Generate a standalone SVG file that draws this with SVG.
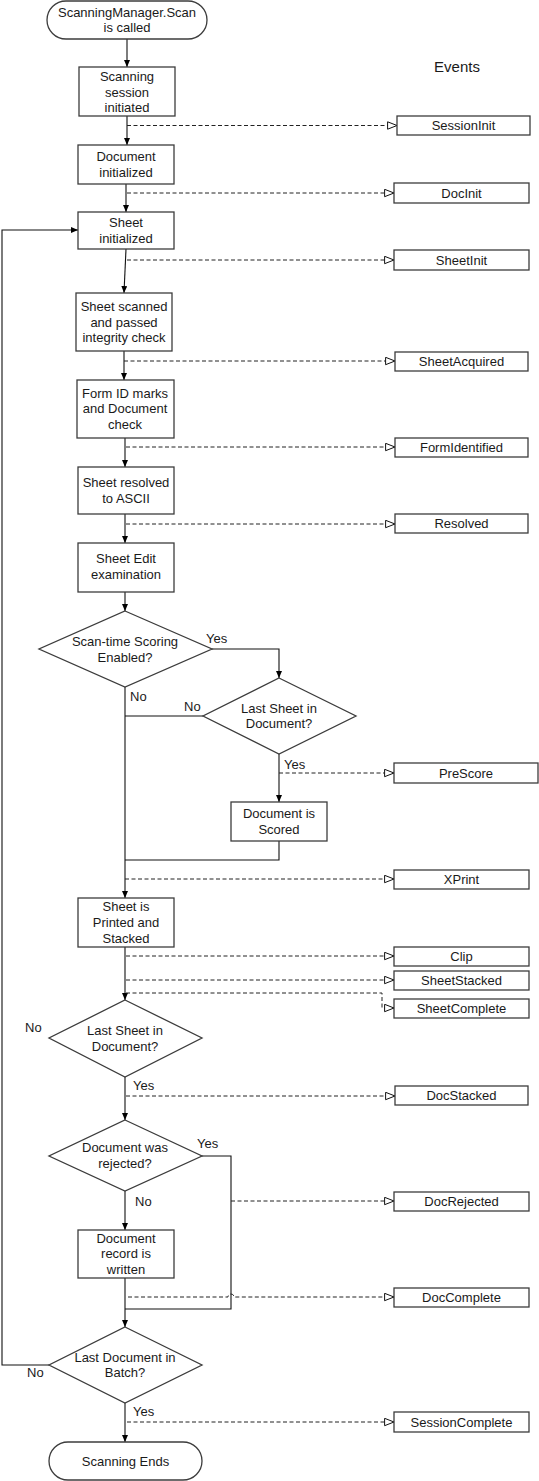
<svg xmlns="http://www.w3.org/2000/svg" width="539" height="1481" viewBox="0 0 539 1481">
<style>
.n{fill:#fff;stroke:#3c3c3c;stroke-width:1.3}
.t{font-family:"Liberation Sans",Arial,sans-serif;font-size:13px;fill:#1a1a1a;text-anchor:middle}
.l{font-family:"Liberation Sans",Arial,sans-serif;font-size:13px;fill:#1a1a1a}
.c{fill:none;stroke:#111;stroke-width:1.1}
.d{fill:none;stroke:#222;stroke-width:1;stroke-dasharray:4,2.5}
</style>
<defs>
<marker id="a" markerUnits="userSpaceOnUse" markerWidth="8" markerHeight="8" refX="7" refY="3" orient="auto"><path d="M0,0 L7,3 L0,6 z" fill="#000"/></marker>
<marker id="o" markerUnits="userSpaceOnUse" markerWidth="12" markerHeight="10" refX="10" refY="4.5" orient="auto"><path d="M0.6,0.8 L10,4.5 L0.6,8.2 z" fill="#fff" stroke="#111" stroke-width="1"/></marker>
</defs>
<rect width="539" height="1481" fill="#fff"/>
<text class="l" x="457" y="72" text-anchor="middle" style="font-size:15px">Events</text>
<g id="connectors">
<path class="c" d="M127,39 V67" marker-end="url(#a)"/>
<path class="c" d="M127,116 V145" marker-end="url(#a)"/>
<path class="c" d="M126,184 V212" marker-end="url(#a)"/>
<path class="c" d="M126,249 L124,293" marker-end="url(#a)"/>
<path class="c" d="M124,351 V380" marker-end="url(#a)"/>
<path class="c" d="M125,438 V467" marker-end="url(#a)"/>
<path class="c" d="M125,514 V543" marker-end="url(#a)"/>
<path class="c" d="M125,592 V611" marker-end="url(#a)"/>
<path class="c" d="M212,649 H279 V678" marker-end="url(#a)"/>
<path class="c" d="M125,687 V898" marker-end="url(#a)"/>
<path class="c" d="M203,716 H125"/>
<path class="c" d="M279,754 V802" marker-end="url(#a)"/>
<path class="c" d="M279,841 V860 H125"/>
<path class="c" d="M125,947 V1000" marker-end="url(#a)"/>
<path class="c" d="M125,1077 V1120" marker-end="url(#a)"/>
<path class="c" d="M125,1191 V1230" marker-end="url(#a)"/>
<path class="c" d="M202,1156 H231 V1309 H125"/>
<path class="c" d="M125,1278 V1327" marker-end="url(#a)"/>
<path class="c" d="M49,1365 H2 V230 H78" marker-end="url(#a)"/>
<path class="c" d="M125,1403 V1442" marker-end="url(#a)"/>
<path class="d" d="M127,125.5 H397" marker-end="url(#o)"/>
<path class="d" d="M127,193 H394" marker-end="url(#o)"/>
<path class="d" d="M127,260 H394" marker-end="url(#o)"/>
<path class="d" d="M124,361 H395" marker-end="url(#o)"/>
<path class="d" d="M126,447 H395" marker-end="url(#o)"/>
<path class="d" d="M126,524 H395" marker-end="url(#o)"/>
<path class="d" d="M279,773 H394" marker-end="url(#o)"/>
<path class="d" d="M125,879 H394" marker-end="url(#o)"/>
<path class="d" d="M126,956 H394" marker-end="url(#o)"/>
<path class="d" d="M126,980 H394" marker-end="url(#o)"/>
<path class="d" d="M126,993 H382 V1008 H394" marker-end="url(#o)"/>
<path class="d" d="M126,1096 H395" marker-end="url(#o)"/>
<path class="d" d="M231,1201 H394" marker-end="url(#o)"/>
<path class="d" d="M128,1297 H228 A3,3 0 0 1 234,1297 H394" marker-end="url(#o)"/>
<path class="d" d="M127,1422 H394" marker-end="url(#o)"/>
<text class="l" x="206" y="642.5">Yes</text>
<text class="l" x="130" y="701">No</text>
<text class="l" x="184" y="711">No</text>
<text class="l" x="284" y="769">Yes</text>
<text class="l" x="25" y="1032">No</text>
<text class="l" x="133" y="1090">Yes</text>
<text class="l" x="197" y="1148">Yes</text>
<text class="l" x="135" y="1206">No</text>
<text class="l" x="27" y="1377">No</text>
<text class="l" x="133" y="1416">Yes</text>
</g>
<g id="start"><rect class="n" x="47" y="1" width="160" height="38" rx="19"/><text class="t" x="127" y="16.5">ScanningManager.Scan</text><text class="t" x="127" y="31.5">is called</text></g>
<g id="session"><rect class="n" x="79" y="67" width="96" height="49"/><text class="t" x="127" y="81">Scanning</text><text class="t" x="127" y="97">session</text><text class="t" x="127" y="112">initiated</text></g>
<g id="docinit"><rect class="n" x="78" y="145" width="96" height="39"/><text class="t" x="126" y="160.5">Document</text><text class="t" x="126" y="176.5">initialized</text></g>
<g id="sheetinit"><rect class="n" x="78" y="212" width="96" height="37"/><text class="t" x="126" y="227">Sheet</text><text class="t" x="126" y="243">initialized</text></g>
<g id="scanned"><rect class="n" x="76" y="293" width="96" height="58"/><text class="t" x="124" y="311">Sheet scanned</text><text class="t" x="124" y="327">and passed</text><text class="t" x="124" y="342">integrity check</text></g>
<g id="formid"><rect class="n" x="77" y="380" width="97" height="58"/><text class="t" x="125" y="398">Form ID marks</text><text class="t" x="125" y="413">and Document</text><text class="t" x="125" y="429">check</text></g>
<g id="resolved"><rect class="n" x="78" y="467" width="96" height="47"/><text class="t" x="126" y="487">Sheet resolved</text><text class="t" x="126" y="503">to ASCII</text></g>
<g id="edit"><rect class="n" x="78" y="543" width="96" height="49"/><text class="t" x="126" y="563">Sheet Edit</text><text class="t" x="126" y="579">examination</text></g>
<g id="dec1"><polygon class="n" points="125,611 212,649 125,687 39,649"/><text class="t" x="125" y="645.5">Scan-time Scoring</text><text class="t" x="125" y="661.5">Enabled?</text></g>
<g id="dec2"><polygon class="n" points="279,678 356,716 279,754 203,716"/><text class="t" x="279" y="712.5">Last Sheet in</text><text class="t" x="279" y="728">Document?</text></g>
<g id="scored"><rect class="n" x="231" y="802" width="96" height="39"/><text class="t" x="279" y="818">Document is</text><text class="t" x="279" y="834">Scored</text></g>
<g id="printed"><rect class="n" x="78" y="898" width="96" height="49"/><text class="t" x="126" y="911">Sheet is</text><text class="t" x="126" y="927">Printed and</text><text class="t" x="126" y="943">Stacked</text></g>
<g id="dec3"><polygon class="n" points="125,1000 202,1038 125,1077 49,1038"/><text class="t" x="125" y="1035">Last Sheet in</text><text class="t" x="125" y="1051">Document?</text></g>
<g id="dec4"><polygon class="n" points="125,1120 202,1156 125,1191 49,1156"/><text class="t" x="125" y="1152">Document was</text><text class="t" x="125" y="1168">rejected?</text></g>
<g id="record"><rect class="n" x="78" y="1230" width="96" height="48"/><text class="t" x="126" y="1243">Document</text><text class="t" x="126" y="1258">record is</text><text class="t" x="126" y="1274">written</text></g>
<g id="dec5"><polygon class="n" points="125,1327 202,1365 125,1403 49,1365"/><text class="t" x="125" y="1362">Last Document in</text><text class="t" x="125" y="1377">Batch?</text></g>
<g id="end"><rect class="n" x="49" y="1442" width="153" height="38" rx="19"/><text class="t" x="125.5" y="1466">Scanning Ends</text></g>
<g id="ev-sessioninit"><rect class="n" x="397" y="116" width="133" height="19"/><text class="t" x="463.5" y="130">SessionInit</text></g>
<g id="ev-docinit"><rect class="n" x="394" y="183" width="135" height="20"/><text class="t" x="461.5" y="197.5">DocInit</text></g>
<g id="ev-sheetinit"><rect class="n" x="394" y="250" width="135" height="20"/><text class="t" x="461.5" y="264.5">SheetInit</text></g>
<g id="ev-sheetacquired"><rect class="n" x="395" y="352" width="133" height="19"/><text class="t" x="461.5" y="366">SheetAcquired</text></g>
<g id="ev-formidentified"><rect class="n" x="395" y="438" width="133" height="19"/><text class="t" x="461.5" y="452">FormIdentified</text></g>
<g id="ev-resolved"><rect class="n" x="395" y="514" width="133" height="19"/><text class="t" x="461.5" y="528">Resolved</text></g>
<g id="ev-prescore"><rect class="n" x="394" y="763" width="144" height="20"/><text class="t" x="466" y="777.5">PreScore</text></g>
<g id="ev-xprint"><rect class="n" x="394" y="870" width="135" height="19"/><text class="t" x="461.5" y="884">XPrint</text></g>
<g id="ev-clip"><rect class="n" x="394" y="947" width="135" height="19"/><text class="t" x="461.5" y="961">Clip</text></g>
<g id="ev-sheetstacked"><rect class="n" x="394" y="971" width="135" height="19"/><text class="t" x="461.5" y="985">SheetStacked</text></g>
<g id="ev-sheetcomplete"><rect class="n" x="394" y="999" width="135" height="19"/><text class="t" x="461.5" y="1013">SheetComplete</text></g>
<g id="ev-docstacked"><rect class="n" x="395" y="1086" width="133" height="19"/><text class="t" x="461.5" y="1100">DocStacked</text></g>
<g id="ev-docrejected"><rect class="n" x="394" y="1192" width="135" height="19"/><text class="t" x="461.5" y="1206">DocRejected</text></g>
<g id="ev-doccomplete"><rect class="n" x="394" y="1288" width="135" height="19"/><text class="t" x="461.5" y="1302">DocComplete</text></g>
<g id="ev-sessioncomplete"><rect class="n" x="394" y="1412" width="135" height="20"/><text class="t" x="461.5" y="1426.5">SessionComplete</text></g>
</svg>
